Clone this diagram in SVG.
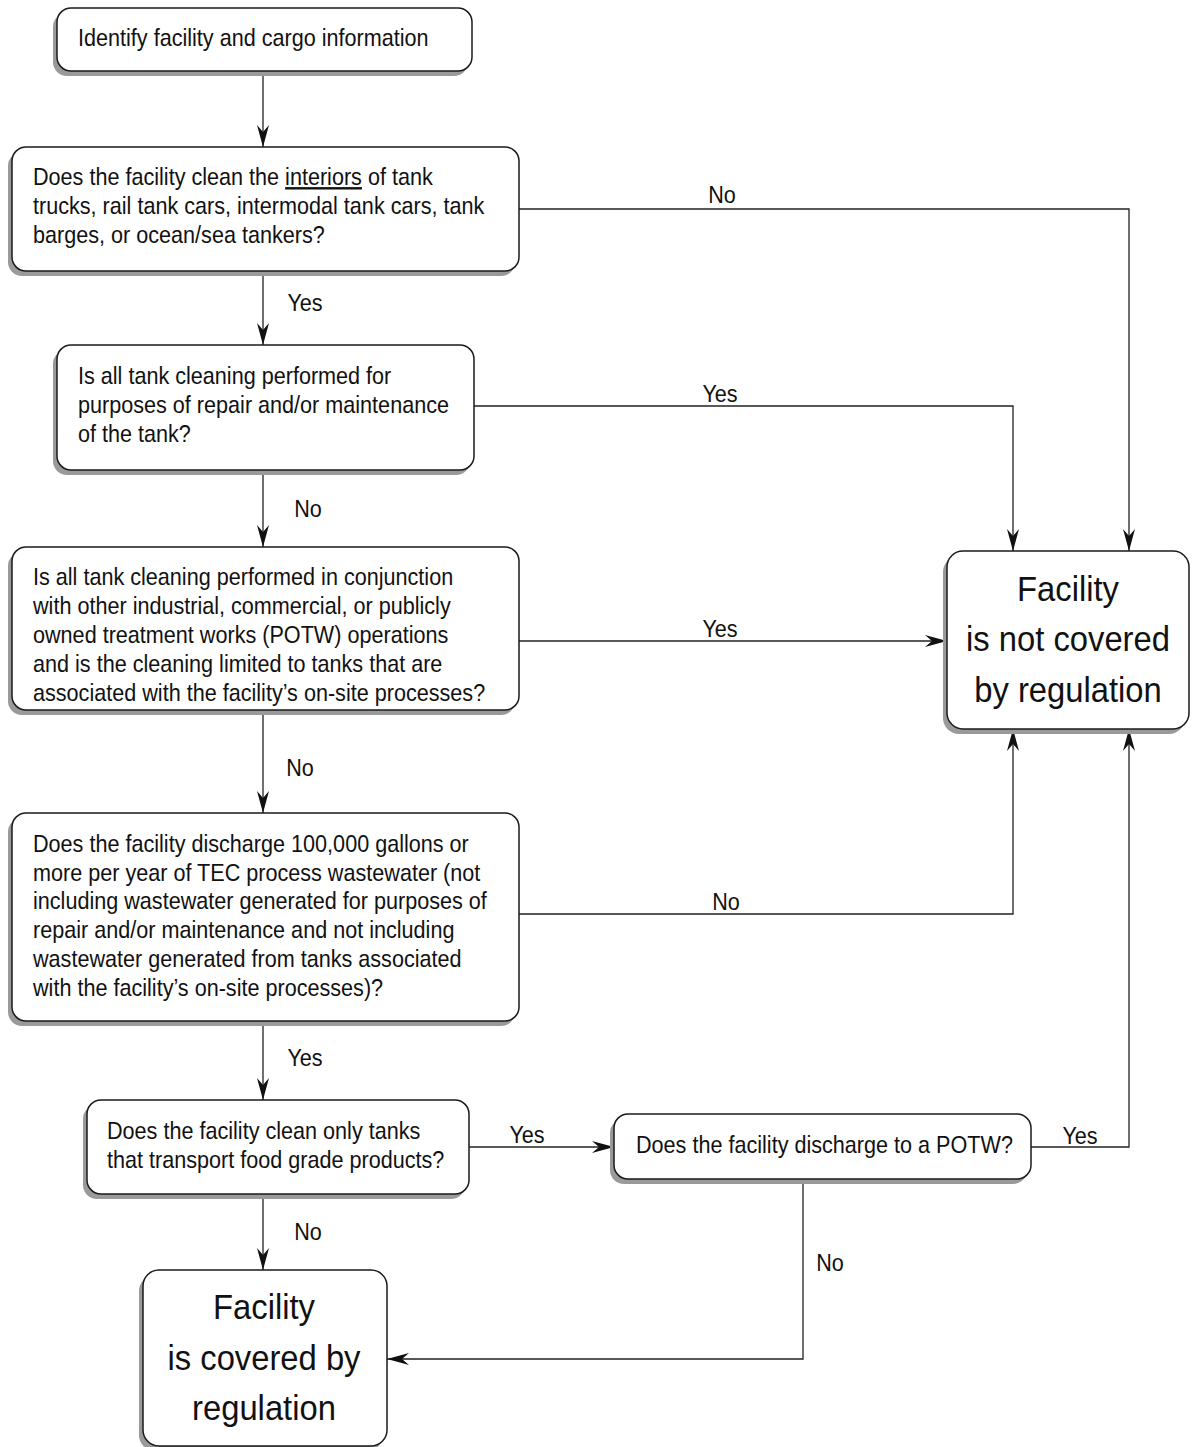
<svg xmlns="http://www.w3.org/2000/svg" width="1193" height="1447" viewBox="0 0 1193 1447">
<style>
.box{fill:#fff;stroke:#1a1a1a;stroke-width:1.5}
.sh{fill:#9a9a9a}
.t{font-family:"Liberation Sans",Arial,sans-serif;font-size:24px;fill:#111}
.big{font-family:"Liberation Sans",Arial,sans-serif;font-size:36px;fill:#111;text-anchor:middle}
.lbl{font-family:"Liberation Sans",Arial,sans-serif;font-size:24px;fill:#111;text-anchor:middle}
.c{fill:none;stroke:#222;stroke-width:1.3}
</style>
<defs>
<marker id="ah" markerUnits="userSpaceOnUse" markerWidth="24" markerHeight="14" viewBox="-23 -7 24 14" refX="0" refY="0" orient="auto">
<path d="M0,0 L-22,-6 L-15,0 L-22,6 Z" fill="#111"/>
</marker>
</defs>
<g id="connectors">
<path class="c" d="M263,71 V147" marker-end="url(#ah)"/>
<path class="c" d="M263,271 V345" marker-end="url(#ah)"/>
<path class="c" d="M263,470 V547" marker-end="url(#ah)"/>
<path class="c" d="M263,710 V813" marker-end="url(#ah)"/>
<path class="c" d="M263,1021 V1100" marker-end="url(#ah)"/>
<path class="c" d="M263,1194 V1270" marker-end="url(#ah)"/>
<path class="c" d="M519,209 H1129 V551" marker-end="url(#ah)"/>
<path class="c" d="M474,406 H1013 V551" marker-end="url(#ah)"/>
<path class="c" d="M519,641 H947" marker-end="url(#ah)"/>
<path class="c" d="M519,914 H1013 V729" marker-end="url(#ah)"/>
<path class="c" d="M469,1147 H614" marker-end="url(#ah)"/>
<path class="c" d="M1031,1147 H1129 V729" marker-end="url(#ah)"/>
<path class="c" d="M803,1179 V1359 H387" marker-end="url(#ah)"/>
<g class="lbl">
<text transform="translate(722 203) scale(0.9 1)">No</text>
<text transform="translate(305 311) scale(0.9 1)">Yes</text>
<text transform="translate(720 402) scale(0.9 1)">Yes</text>
<text transform="translate(308 517) scale(0.9 1)">No</text>
<text transform="translate(720 637) scale(0.9 1)">Yes</text>
<text transform="translate(300 776) scale(0.9 1)">No</text>
<text transform="translate(726 910) scale(0.9 1)">No</text>
<text transform="translate(305 1066) scale(0.9 1)">Yes</text>
<text transform="translate(527 1143) scale(0.9 1)">Yes</text>
<text transform="translate(1080 1144) scale(0.9 1)">Yes</text>
<text transform="translate(308 1240) scale(0.9 1)">No</text>
<text transform="translate(830 1271) scale(0.9 1)">No</text>
</g>
</g>
<g id="n1">
<rect class="sh" x="53" y="13" width="415" height="63" rx="14"/>
<rect class="box" x="57" y="8" width="415" height="63" rx="14"/>
<text class="t" transform="translate(78 46) scale(0.9 1)">Identify facility and cargo information</text>
</g>
<g id="n2">
<rect class="sh" x="8" y="152" width="507" height="124" rx="14"/>
<rect class="box" x="12" y="147" width="507" height="124" rx="14"/>
<text class="t" transform="translate(33 185) scale(0.9 1)">Does the facility clean the <tspan text-decoration="underline">interiors</tspan> of tank</text>
<text class="t" transform="translate(33 214) scale(0.9 1)">trucks, rail tank cars, intermodal tank cars, tank</text>
<text class="t" transform="translate(33 243) scale(0.9 1)">barges, or ocean/sea tankers?</text>
</g>
<g id="n3">
<rect class="sh" x="53" y="350" width="417" height="125" rx="14"/>
<rect class="box" x="57" y="345" width="417" height="125" rx="14"/>
<text class="t" transform="translate(78 384) scale(0.9 1)">Is all tank cleaning performed for</text>
<text class="t" transform="translate(78 413) scale(0.9 1)">purposes of repair and/or maintenance</text>
<text class="t" transform="translate(78 442) scale(0.9 1)">of the tank?</text>
</g>
<g id="n4">
<rect class="sh" x="8" y="552" width="507" height="163" rx="14"/>
<rect class="box" x="12" y="547" width="507" height="163" rx="14"/>
<text class="t" transform="translate(33 585) scale(0.9 1)">Is all tank cleaning performed in conjunction</text>
<text class="t" transform="translate(33 614) scale(0.9 1)">with other industrial, commercial, or publicly</text>
<text class="t" transform="translate(33 643) scale(0.9 1)">owned treatment works (POTW) operations</text>
<text class="t" transform="translate(33 672) scale(0.9 1)">and is the cleaning limited to tanks that are</text>
<text class="t" transform="translate(33 701) scale(0.9 1)">associated with the facility’s on-site processes?</text>
</g>
<g id="n5">
<rect class="sh" x="8" y="818" width="507" height="208" rx="14"/>
<rect class="box" x="12" y="813" width="507" height="208" rx="14"/>
<text class="t" transform="translate(33 852) scale(0.9 1)">Does the facility discharge 100,000 gallons or</text>
<text class="t" transform="translate(33 881) scale(0.9 1)">more per year of TEC process wastewater (not</text>
<text class="t" transform="translate(33 909) scale(0.9 1)">including wastewater generated for purposes of</text>
<text class="t" transform="translate(33 938) scale(0.9 1)">repair and/or maintenance and not including</text>
<text class="t" transform="translate(33 967) scale(0.9 1)">wastewater generated from tanks associated</text>
<text class="t" transform="translate(33 996) scale(0.9 1)">with the facility’s on-site processes)?</text>
</g>
<g id="n6">
<rect class="sh" x="83" y="1105" width="382" height="94" rx="14"/>
<rect class="box" x="87" y="1100" width="382" height="94" rx="14"/>
<text class="t" transform="translate(107 1139) scale(0.9 1)">Does the facility clean only tanks</text>
<text class="t" transform="translate(107 1168) scale(0.9 1)">that transport food grade products?</text>
</g>
<g id="n7">
<rect class="sh" x="610" y="1119" width="417" height="65" rx="14"/>
<rect class="box" x="614" y="1114" width="417" height="65" rx="14"/>
<text class="t" transform="translate(636 1153) scale(0.9 1)">Does the facility discharge to a POTW?</text>
</g>
<g id="n8">
<rect class="sh" x="943" y="556" width="242" height="178" rx="16"/>
<rect class="box" x="947" y="551" width="242" height="178" rx="16"/>
<text class="big" transform="translate(1068 601) scale(0.91 1)">Facility</text>
<text class="big" transform="translate(1068 651) scale(0.91 1)">is not covered</text>
<text class="big" transform="translate(1068 702) scale(0.91 1)">by regulation</text>
</g>
<g id="n9">
<rect class="sh" x="139" y="1275" width="244" height="176" rx="16"/>
<rect class="box" x="143" y="1270" width="244" height="176" rx="16"/>
<text class="big" transform="translate(264 1319) scale(0.91 1)">Facility</text>
<text class="big" transform="translate(264 1370) scale(0.91 1)">is covered by</text>
<text class="big" transform="translate(264 1420) scale(0.91 1)">regulation</text>
</g>
</svg>
